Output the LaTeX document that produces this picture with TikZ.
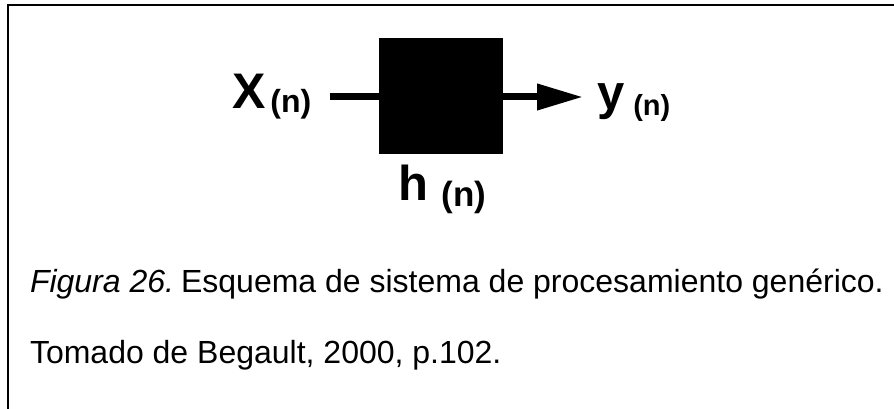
\documentclass[tikz,border=0pt]{standalone}
\usepackage{fontspec}
\setmainfont{Liberation Sans}
\usetikzlibrary{arrows.meta}
\tikzset{
  lbl/.style={inner sep=0pt, outer sep=0pt, anchor=base west, font=\bfseries},
  captext/.style={inner sep=0pt, outer sep=0pt, anchor=base west, font=\fontsize{32}{36}\selectfont},
  wire/.style={line width=7pt},
}
\begin{document}
\begin{tikzpicture}[x=1pt,y=-1pt]
\useasboundingbox (0,0) rectangle (894,409);
\draw[line width=1.5pt] (8,409) -- (8,5) -- (894,5);
\node[fill=black, draw=none, minimum width=124pt, minimum height=116pt, inner sep=0pt, outer sep=0pt] (blk) at (441,96) {};
\coordinate (in) at (330,97);
\coordinate (out) at (583,97);
\draw[wire] (in) -- (blk.west |- in);
\draw[wire, -{Triangle[length=46pt,width=25pt]}] (blk.east |- out) -- (out);
\node[lbl] (x) at (232,109) {{\fontsize{50}{50}\selectfont X}\hspace{5pt}\raisebox{-4pt}{\fontsize{32}{32}\selectfont (n)}};
\node[lbl] (y) at (597,110) {{\fontsize{49}{49}\selectfont y}\hspace{9pt}\raisebox{-6pt}{\fontsize{29}{29}\selectfont (n)}};
\node[lbl] (h) at (398,200) {{\fontsize{49}{49}\selectfont h}\hspace{14pt}\raisebox{-6pt}{\fontsize{35}{35}\selectfont (n)}};
\node[captext] (c1) at (30,292) {{\itshape Figura 26.}\hspace{7pt}Esquema de sistema de procesamiento genérico.};
\node[captext] (c2) at (30,363) {Tomado de Begault, 2000, p.102.};
\end{tikzpicture}
\end{document}
